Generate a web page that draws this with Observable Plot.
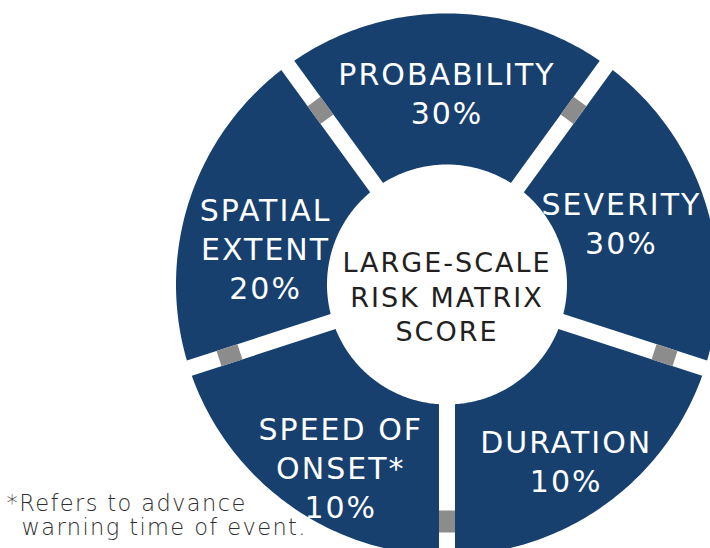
<!DOCTYPE html>
<html>
<head>
<meta charset="utf-8">
<script src="https://cdn.jsdelivr.net/npm/d3@7"></script>
<script src="https://cdn.jsdelivr.net/npm/@observablehq/plot@0.6"></script>
<style>
  html, body { margin: 0; padding: 0; background: #ffffff; }
  #chart svg text { letter-spacing: 2px; }
  #chart svg g.foot text { letter-spacing: 1.4px; }
</style>
</head>
<body>
<div id="chart"></div>
<script>
// ---- data ----
const categories = ["PROBABILITY", "SEVERITY", "DURATION", "SPEED OF\nONSET*", "SPATIAL\nEXTENT"];
const weights = ["30%", "30%", "10%", "10%", "20%"];
const centerTitle = ["LARGE-SCALE", "RISK MATRIX", "SCORE"];
const footnote = ["*Refers to advance", "warning time of event."];

// ---- layout ----
const W = 710, H = 548;
const CX = 446.5, CY = 284;     // ring centre in pixels
const R = 271, R0 = 120;         // outer / inner radius
const GAP = 16;                  // width of white separators
const LABEL_R = 196;
const LABEL_NUDGE = [[0, 4], [-12, -2], [4, 17], [9, 23], [5, 24]]; // px (right, down)
const NAVY = "#17406f", GREY = "#8c8c8c";

const n = categories.length, step = 360 / n;
const rad = d => d * Math.PI / 180;
const pt = (a, rr) => ({x: rr * Math.sin(rad(a)), y: rr * Math.cos(rad(a))});

const slices = categories.map((c, i) => ({
  name: c, pct: weights[i], idx: i, mid: i * step, a0: i * step - step / 2, a1: i * step + step / 2
}));

// ring segments with parallel-sided gaps
const dOut = Math.asin(GAP / 2 / R) * 180 / Math.PI;
const dIn = Math.asin(GAP / 2 / R0) * 180 / Math.PI;
const ringPts = slices.flatMap(s => {
  const pts = [], N = 80;
  const o0 = s.a0 + dOut, o1 = s.a1 - dOut, i0 = s.a0 + dIn, i1 = s.a1 - dIn;
  for (let k = 0; k <= N; k++) pts.push({...pt(o0 + (o1 - o0) * k / N, R), id: s.name});
  for (let k = N; k >= 0; k--) pts.push({...pt(i0 + (i1 - i0) * k / N, R0), id: s.name});
  return pts;
});

// grey connectors in the middle of each gap
const markPts = slices.flatMap(s => {
  const g = s.a1;
  const rg = 225 - 12 * Math.cos(rad(g));
  const u = {x: Math.sin(rad(g)), y: Math.cos(rad(g))};
  const v = {x: Math.cos(rad(g)), y: -Math.sin(rad(g))};
  const h = GAP / 2, L = 11;
  return [[-h, rg - L], [h, rg - L], [h, rg + L], [-h, rg + L]].map(([a, t]) => ({
    x: a * v.x + t * u.x, y: a * v.y + t * u.y, id: s.name
  }));
});

const chart = Plot.plot({
  width: W,
  height: H,
  margin: 0,
  x: {domain: [-CX, W - CX], axis: null},
  y: {domain: [CY - H, CY], axis: null},
  style: {background: "#ffffff", fontFamily: "DejaVu Sans"},
  marks: [
    Plot.line(ringPts, {x: "x", y: "y", z: "id", fill: NAVY, stroke: "none", curve: "linear-closed"}),
    Plot.line(markPts, {x: "x", y: "y", z: "id", fill: GREY, stroke: "none", curve: "linear-closed"}),
    Plot.text(slices, {
      x: d => pt(d.mid, LABEL_R).x + LABEL_NUDGE[d.idx][0],
      y: d => pt(d.mid, LABEL_R).y - LABEL_NUDGE[d.idx][1],
      text: d => d.name + "\n" + d.pct,
      fill: "#ffffff", fontSize: 30, lineHeight: 1.3
    }),
    Plot.text([centerTitle.join("\n")], {
      x: () => 0, y: () => 0, text: d => d, dy: 11,
      fill: "#231f20", fontSize: 27, lineHeight: 1.28
    }),
    Plot.text([footnote[0]], {
      frameAnchor: "bottom-left", text: d => d, textAnchor: "start", lineAnchor: "bottom",
      dx: 6, dy: -38, fill: "#2e2e2e", fontSize: 22.5, fontWeight: 300, className: "foot"
    }),
    Plot.text([footnote[1]], {
      frameAnchor: "bottom-left", text: d => d, textAnchor: "start", lineAnchor: "bottom",
      dx: 21, dy: -14, fill: "#2e2e2e", fontSize: 22.5, fontWeight: 300, className: "foot"
    })
  ]
});
document.getElementById("chart").appendChild(chart);
</script>
</body>
</html>
